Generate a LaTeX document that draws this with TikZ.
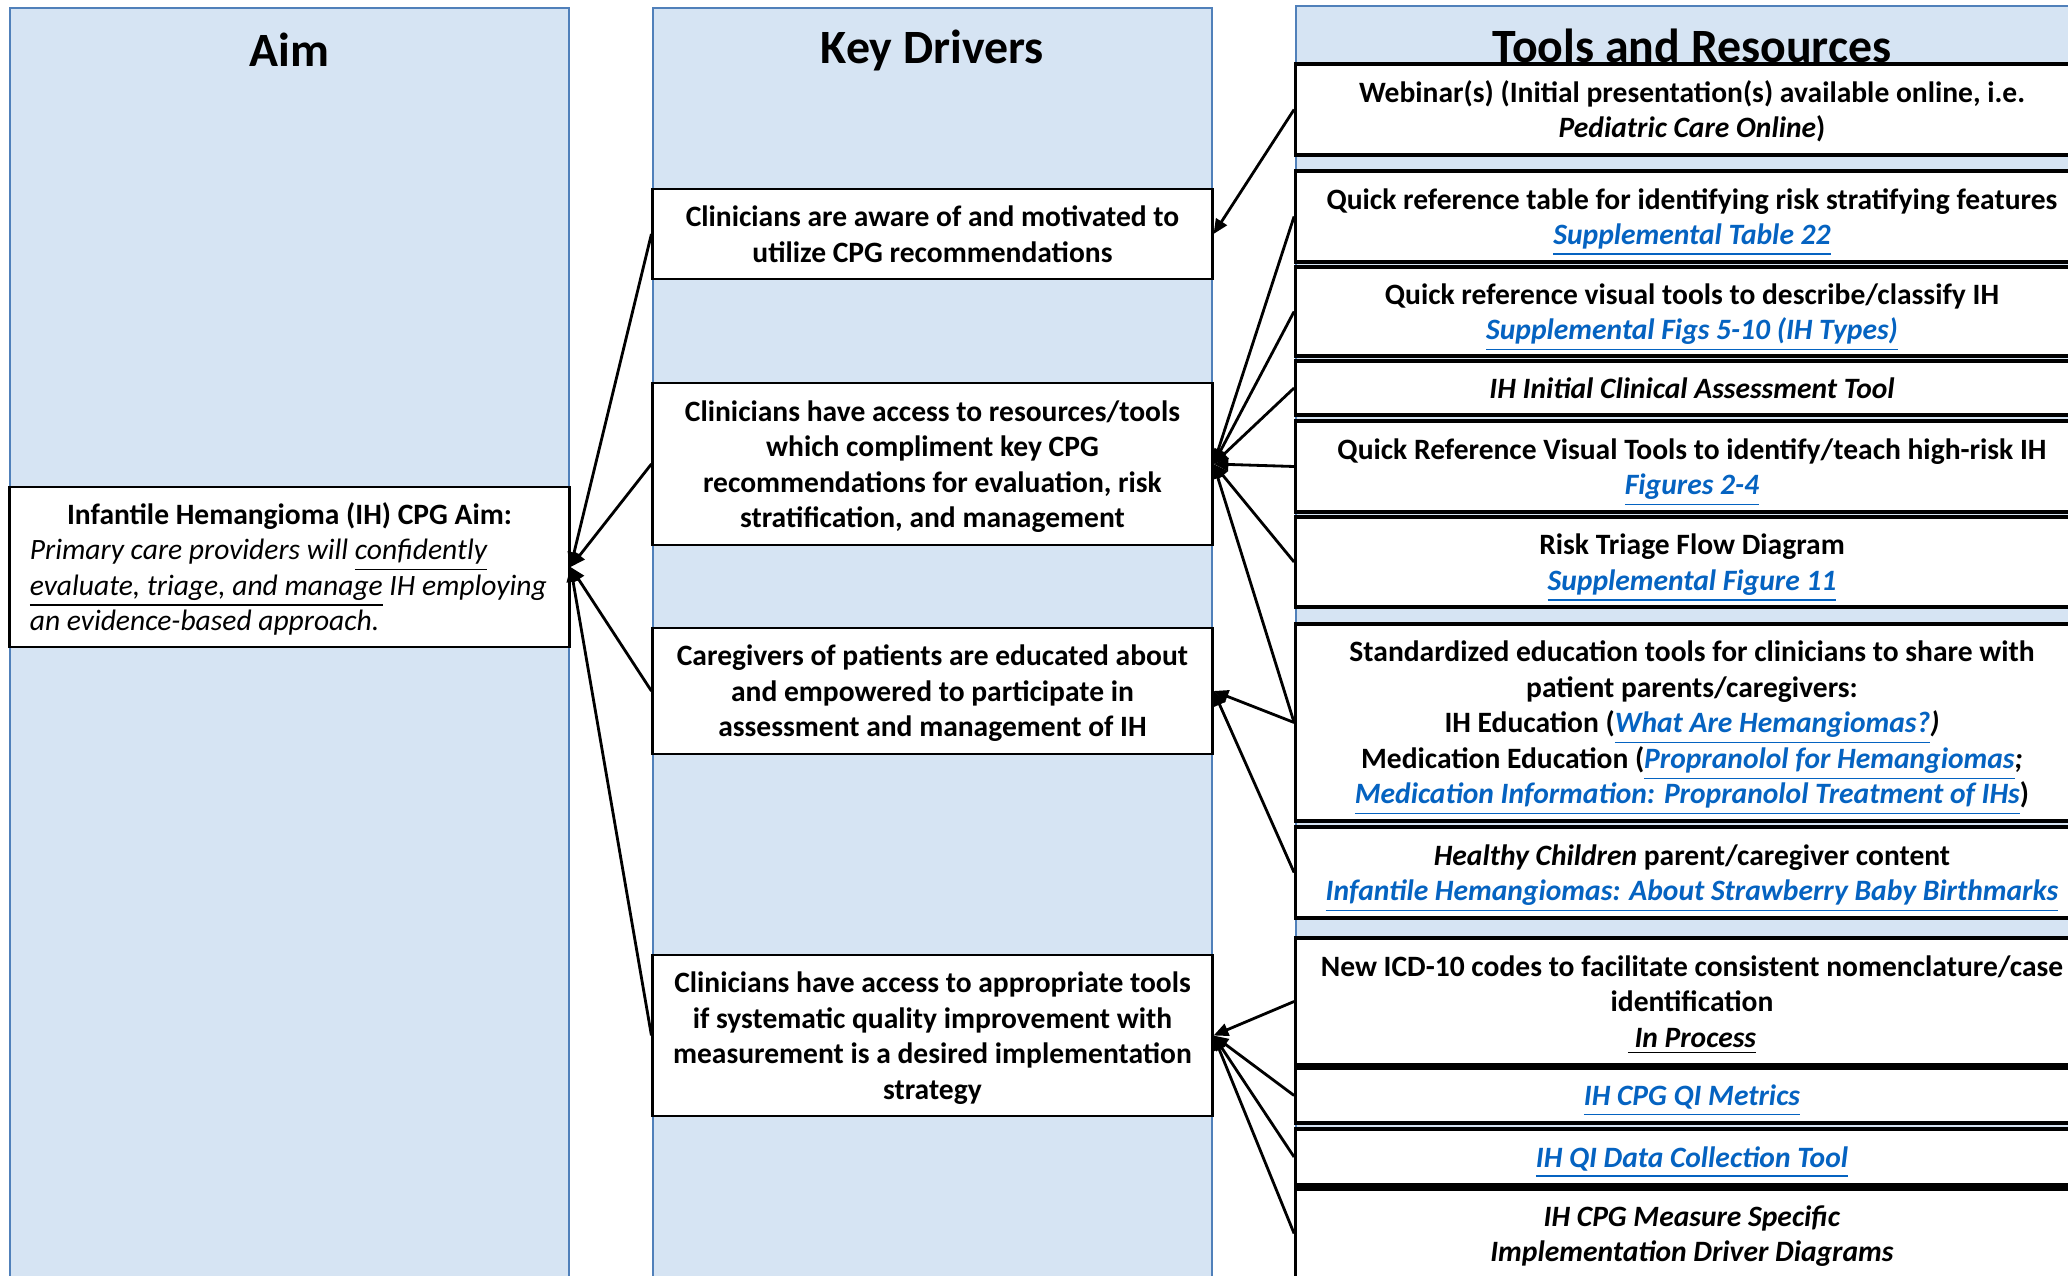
\documentclass[tikz,border=0pt]{standalone}
\usepackage{fontspec}
\setmainfont{Carlito}
\usepackage{xcolor}
\usepackage{tikz}
\usetikzlibrary{positioning}
\usetikzlibrary{arrows.meta}

\definecolor{colfill}{HTML}{D6E4F3}
\definecolor{colline}{HTML}{5080BA}
\definecolor{linkblue}{HTML}{0563C1}

\newcommand{\ul}[1]{\raisebox{0pt}[\height][0pt]{\underline{#1}}}
\newcommand{\lnk}[1]{\textcolor{linkblue}{\ul{\textit{#1}}}}
\newcommand{\st}{\rule[-2.1pt]{0pt}{10.1pt}}
\newcommand{\stend}{\rule[-2.1pt]{0pt}{2.1pt}}

\begin{document}
\begin{tikzpicture}[x=0.01cm, y=-0.01cm,
		column/.style={draw=colline, fill=colfill, line width=0.6pt},
		coltitle/.style={font=\fontsize{13.6pt}{15pt}\selectfont\bfseries, inner sep=0},
		driver/.style={
			draw,
			fill=white,
			line width=0.8pt,
			minimum width=5.59cm,
			inner sep=0,
			align=center,
			font=\fontsize{8.4pt}{10.1pt}\selectfont\bfseries
		},
		tool/.style={
			draw,
			fill=white,
			line width=0.95pt,
			minimum width=7.92cm,
			inner sep=0,
			align=center,
			font=\fontsize{8.4pt}{10.1pt}\selectfont\bfseries
		},
		conn/.style={-{Triangle[length=4.2pt,width=3.6pt]}, line width=0.8pt}]
		\useasboundingbox (0,0) rectangle (2068,1276);
		\clip (0,0) rectangle (2068,1276);
		
		% columns
		\draw[column] (10,8) rectangle (569,1300);
		\draw[column] (653,8) rectangle (1212,1300);
		\draw[column] (1296,6) rectangle (2100,1300);
		\node[coltitle] (aimtitle) at (289.5,50) {Aim};
		\node[coltitle] (kdtitle) at (932.5,50) {Key Drivers};
		\node[coltitle] (tooltitle) at (1692,46) {Tools and Resources};
		
		% aim
		\node[driver, minimum height=1.60cm, align=left, font=\fontsize{8.4pt}{10.1pt}\selectfont] (aim) at (289.5,567) {\st\makebox[5.19cm][c]{\bfseries Infantile Hemangioma (IH) CPG Aim:}\\
			\textit{Primary care providers will \ul{confidently}}\\
			\textit{\ul{evaluate, triage, and manage} IH employing}\\
			\textit{an evidence-based approach.}\stend};
		
		% key drivers
		\node[driver, minimum height=0.90cm] (kd1) at (932.5,234) {\st Clinicians are aware of and motivated to\\ utilize CPG recommendations\stend};
		\node[driver, minimum height=1.62cm] (kd2) at (932.5,464) {\st Clinicians have access to resources/tools\\ which compliment key CPG\\ recommendations for evaluation, risk\\ stratification, and management\stend};
		\node[driver, minimum height=1.26cm] (kd3) at (932.5,691) {\st Caregivers of patients are educated about\\ and empowered to participate in\\ assessment and management of IH\stend};
		\node[driver, minimum height=1.61cm] (kd4) at (932.5,1035.5) {\st Clinicians have access to appropriate tools\\ if systematic quality improvement with\\ measurement is a desired implementation\\ strategy\stend};
		
		% tools and resources
		\node[tool, minimum height=0.91cm] (t1) at (1692,109.5) {\st Webinar(s) (Initial presentation(s) available online, i.e.\\ \textit{Pediatric Care Online})\stend};
		\node[tool, minimum height=0.91cm] (t2) at (1692,216.5) {\st Quick reference table for identifying risk stratifying features\\ \lnk{Supplemental Table 22}\stend};
		\node[tool, minimum height=0.89cm] (t3) at (1692,311.5) {\st Quick reference visual tools to describe/classify IH\\ \lnk{Supplemental Figs 5-10 (IH Types)}\stend};
		\node[tool, minimum height=0.54cm] (t4) at (1692,388) {\st\textit{IH Initial Clinical Assessment Tool}\stend};
		\node[tool, minimum height=0.91cm] (t5) at (1692,466.5) {\st Quick Reference Visual Tools to identify/teach high-risk IH\\ \lnk{Figures 2-4}\stend};
		\node[tool, minimum height=0.90cm] (t6) at (1692,562) {\st Risk Triage Flow Diagram\\ \lnk{Supplemental Figure 11}\stend};
		\node[tool, minimum height=1.97cm] (t7) at (1692,722.5) {\st Standardized education tools for clinicians to share with\\ patient parents/caregivers:\\ IH Education (\lnk{What Are Hemangiomas?}\textit{)}\\ Medication Education (\lnk{Propranolol for Hemangiomas}\textit{;}\\ \lnk{Medication Information: Propranolol Treatment of IHs})\stend};
		\node[tool, minimum height=0.91cm] (t8) at (1692,872.5) {\st\textit{Healthy Children} parent/caregiver content\\ \lnk{Infantile Hemangiomas: About Strawberry Baby Birthmarks}\stend};
		\node[tool, minimum height=1.27cm] (t9) at (1692,1001.5) {\st New ICD-10 codes to facilitate consistent nomenclature/case\\ identification\\ \ul{\textit{~In Process}}\stend};
		\node[tool, minimum height=0.55cm] (t10) at (1692,1095.5) {\st\lnk{IH CPG QI Metrics}\stend};
		\node[tool, minimum height=0.56cm] (t11) at (1692,1157) {\st\lnk{IH QI Data Collection Tool}\stend};
		\node[tool, minimum height=0.89cm] (t12) at (1692,1233.5) {\st\textit{IH CPG Measure Specific}\\ \textit{Implementation Driver Diagrams}\stend};
		
		% drivers -> aim
		\draw[conn] (kd1.west) -- (aim.east);
		\draw[conn] (kd2.west) -- (aim.east);
		\draw[conn] (kd3.west) -- (aim.east);
		\draw[conn] (kd4.west) -- (aim.east);
		
		% tools -> drivers
		\draw[conn] (t1.west) -- (kd1.east);
		\draw[conn] (t2.west) -- (kd2.east);
		\draw[conn] (t3.west) -- (kd2.east);
		\draw[conn] (t4.west) -- (kd2.east);
		\draw[conn] (t5.west) -- (kd2.east);
		\draw[conn] (t6.west) -- (kd2.east);
		\draw[conn] (t7.west) -- (kd2.east);
		\draw[conn] (t7.west) -- (kd3.east);
		\draw[conn] (t8.west) -- (kd3.east);
		\draw[conn] (t9.west) -- (kd4.east);
		\draw[conn] (t10.west) -- (kd4.east);
		\draw[conn] (t11.west) -- (kd4.east);
		\draw[conn] (t12.west) -- (kd4.east);
	\end{tikzpicture}
\end{document}
